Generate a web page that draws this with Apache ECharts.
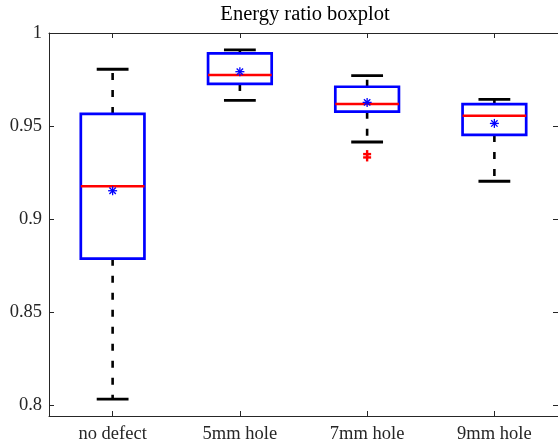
<!DOCTYPE html>
<html>
<head>
<meta charset="utf-8">
<script src="https://cdn.jsdelivr.net/npm/echarts@6/dist/echarts.min.js"></script>
<style>
  html, body { margin: 0; padding: 0; background: #fff; }
  #chart { width: 558px; height: 446px; }
</style>
</head>
<body>
<div id="chart"></div>
<script>
// Box statistics per group
const categories = ['no defect', '5mm hole', '7mm hole', '9mm hole'];
const lowerWhisker = [0.8032, 0.9638, 0.9414, 0.9203];
const q1 = [0.8787, 0.9726, 0.9577, 0.9452];
const median = [0.9176, 0.9774, 0.9618, 0.9555];
const q3 = [0.9565, 0.9891, 0.9711, 0.9618];
const upperWhisker = [0.9805, 0.9909, 0.9771, 0.9643];
const means = [0.9152, 0.9792, 0.9627, 0.9514];
// Outliers as [group index, value]
const outliers = [[2, 0.9349], [2, 0.9331]];
const yTicks = [0.8, 0.85, 0.9, 0.95, 1];

const FONT = '"Liberation Serif", "Times New Roman", serif';
const AXIS_COLOR = '#262626';

const boxData = categories.map((c, i) =>
  [i, lowerWhisker[i], q1[i], median[i], q3[i], upperWhisker[i], means[i]]);

function renderBox(params, api) {
  const i = api.value(0);
  const band = api.size([1, 0])[0];
  const hw = band * 0.25;   // half box width
  const cw = band * 0.125;  // half cap width
  const pt = v => api.coord([i, v]);
  const [x, yLo] = pt(api.value(1));
  const yQ1 = pt(api.value(2))[1];
  const yMed = pt(api.value(3))[1];
  const yQ3 = pt(api.value(4))[1];
  const yHi = pt(api.value(5))[1];
  const yMean = pt(api.value(6))[1];

  const dashed = { stroke: '#000', lineWidth: 2.6, lineDash: [7, 10] };
  const solid = { stroke: '#000', lineWidth: 2.8 };
  const s = 4.5, d = 3.2;
  const starStyle = { stroke: '#0000ff', lineWidth: 1.3 };

  return {
    type: 'group',
    children: [
      { type: 'line', shape: { x1: x, y1: yQ3, x2: x, y2: yHi }, style: dashed },
      { type: 'line', shape: { x1: x, y1: yQ1, x2: x, y2: yLo }, style: dashed },
      { type: 'line', shape: { x1: x - cw, y1: yHi, x2: x + cw, y2: yHi }, style: solid },
      { type: 'line', shape: { x1: x - cw, y1: yLo, x2: x + cw, y2: yLo }, style: solid },
      { type: 'rect', shape: { x: x - hw, y: yQ3, width: 2 * hw, height: yQ1 - yQ3 },
        style: { fill: 'none', stroke: '#0000ff', lineWidth: 2.7 } },
      { type: 'line', shape: { x1: x - hw, y1: yMed, x2: x + hw, y2: yMed },
        style: { stroke: '#ff0000', lineWidth: 2.6 } },
      // mean marker (asterisk)
      { type: 'line', shape: { x1: x - s, y1: yMean, x2: x + s, y2: yMean }, style: starStyle },
      { type: 'line', shape: { x1: x, y1: yMean - s, x2: x, y2: yMean + s }, style: starStyle },
      { type: 'line', shape: { x1: x - d, y1: yMean - d, x2: x + d, y2: yMean + d }, style: starStyle },
      { type: 'line', shape: { x1: x - d, y1: yMean + d, x2: x + d, y2: yMean - d }, style: starStyle }
    ]
  };
}

function renderOutlier(params, api) {
  const [x, y] = api.coord([api.value(0), api.value(1)]);
  const r = 4;
  const st = { stroke: '#ff0000', lineWidth: 2.4 };
  return {
    type: 'group',
    children: [
      { type: 'line', shape: { x1: x - r, y1: y, x2: x + r, y2: y }, style: st },
      { type: 'line', shape: { x1: x, y1: y - r, x2: x, y2: y + r }, style: st }
    ]
  };
}

const axisLineStyle = { lineStyle: { color: AXIS_COLOR, width: 1 } };

const chart = echarts.init(document.getElementById('chart'), null, { renderer: 'canvas' });
chart.setOption({
  animation: false,
  backgroundColor: '#fff',
  grid: { left: 49, right: -3, top: 33, bottom: 30, containLabel: false },
  graphic: [{
    type: 'text',
    x: 305, y: 14.5,
    style: {
      text: 'Energy ratio boxplot',
      fill: '#000',
      font: '20.5px ' + FONT,
      textAlign: 'center',
      textVerticalAlign: 'middle'
    }
  }],
  xAxis: [{
    type: 'category',
    data: categories,
    position: 'bottom',
    axisLine: axisLineStyle,
    axisTick: { show: true, inside: true, length: 5, alignWithLabel: true, lineStyle: { color: AXIS_COLOR } },
    axisLabel: { color: AXIS_COLOR, fontFamily: FONT, fontSize: 18.5, margin: 9 },
    splitLine: { show: false }
  }, {
    type: 'category',
    data: categories,
    position: 'top',
    axisLine: axisLineStyle,
    axisTick: { show: true, inside: true, length: 5, alignWithLabel: true, lineStyle: { color: AXIS_COLOR } },
    axisLabel: { show: false },
    splitLine: { show: false }
  }],
  yAxis: [{
    type: 'value',
    min: 0.7941, max: 1,
    position: 'left',
    axisLine: { show: true, lineStyle: { color: AXIS_COLOR, width: 1 } },
    axisTick: { show: true, inside: true, length: 5, customValues: yTicks, lineStyle: { color: AXIS_COLOR } },
    axisLabel: { color: AXIS_COLOR, fontFamily: FONT, fontSize: 18.5, margin: 7, customValues: yTicks,
      formatter: v => String(+v.toFixed(2)) },
    splitLine: { show: false }
  }, {
    type: 'value',
    min: 0.7941, max: 1,
    position: 'right',
    axisLine: { show: true, lineStyle: { color: AXIS_COLOR, width: 1 } },
    axisTick: { show: true, inside: true, length: 5, customValues: yTicks, lineStyle: { color: AXIS_COLOR } },
    axisLabel: { show: false },
    splitLine: { show: false }
  }],
  series: [{
    type: 'custom',
    renderItem: renderBox,
    data: boxData,
    encode: { x: 0, y: [1, 2, 3, 4, 5, 6] },
    clip: false
  }, {
    type: 'custom',
    renderItem: renderOutlier,
    data: outliers,
    encode: { x: 0, y: 1 },
    clip: false
  }]
});
</script>
</body>
</html>
